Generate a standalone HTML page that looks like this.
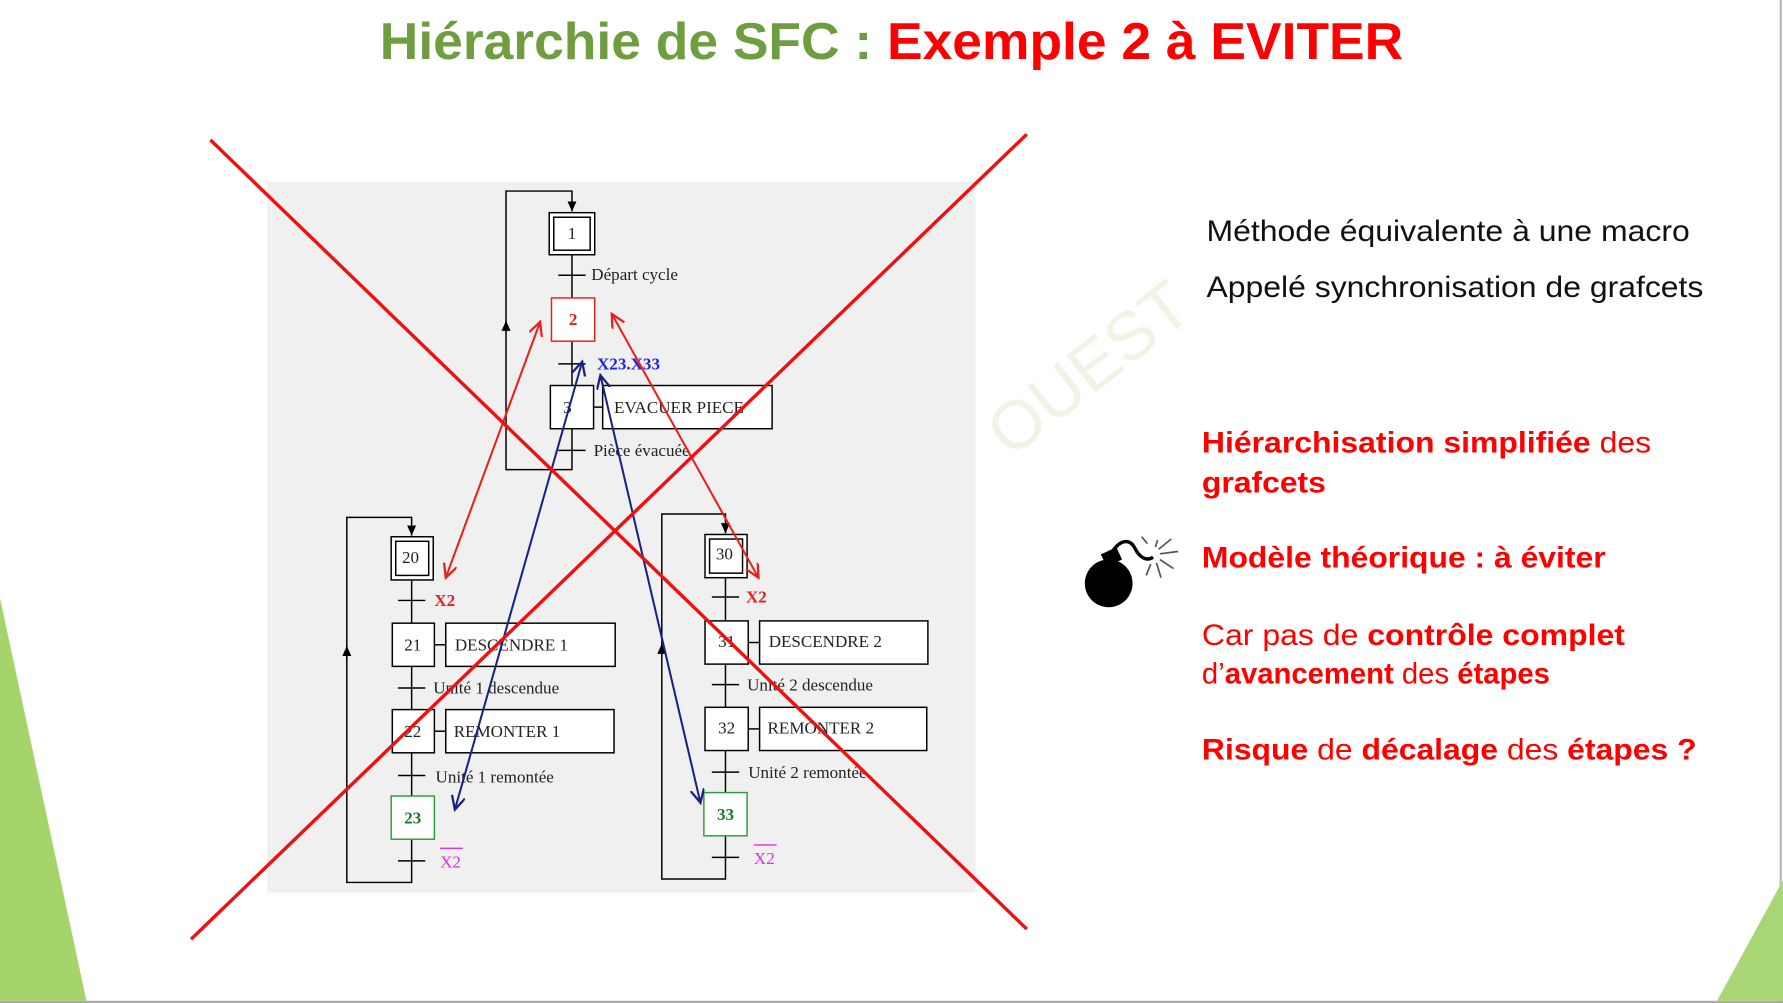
<!DOCTYPE html>
<html><head><meta charset="utf-8"><style>
html,body{margin:0;padding:0;background:#fff;}
svg{display:block;}
</style></head><body>
<svg width="1783" height="1003" viewBox="0 0 1568 882" xmlns="http://www.w3.org/2000/svg" font-family="Liberation Sans, Arial, sans-serif">
<defs>
<marker id="ab" markerWidth="10" markerHeight="10" refX="9" refY="4" orient="auto-start-reverse" markerUnits="userSpaceOnUse"><path d="M0,0 L9,4 L0,8 Z" fill="#000"/></marker>
<marker id="ar" markerWidth="14" markerHeight="14" refX="12" refY="6" orient="auto-start-reverse" markerUnits="userSpaceOnUse"><path d="M0,0 L12,6 L0,12" fill="none" stroke="#e8201c" stroke-width="2"/></marker>
<marker id="abl" markerWidth="14" markerHeight="14" refX="12" refY="6" orient="auto-start-reverse" markerUnits="userSpaceOnUse"><path d="M0,0 L12,6 L0,12" fill="none" stroke="#1a237e" stroke-width="2"/></marker>
</defs>
<rect width="1568" height="882" fill="#fff"/>
<line x1="1566" y1="0" x2="1566" y2="882" stroke="#bbb" stroke-width="2"/>
<line x1="0" y1="881" x2="1568" y2="881" stroke="#aaa" stroke-width="2"/>
<polygon points="0,526 76,880 0,880" fill="#a5d46a"/>
<polygon points="1510,880 1568,774 1568,880" fill="#a9d674"/>

<text x="784" y="52" text-anchor="middle" font-size="46" font-weight="bold" textLength="900" lengthAdjust="spacingAndGlyphs"><tspan fill="#6e9e3f">Hiérarchie de SFC : </tspan><tspan fill="#ff0000">Exemple 2 à EVITER</tspan></text>

<text x="970" y="340" font-size="60" fill="#eef5e4" transform="rotate(-38 970 340)" text-anchor="middle">OUEST</text>
<!-- diagram panel -->
<rect x="235" y="160" width="623" height="625" fill="#f0f0f0"/>

<g stroke="#000" stroke-width="1.3" fill="none">
 <polyline points="503,224 503,413 445,413 445,168 503,168 503,186" marker-end="url(#ab)"/>
 <line x1="445" y1="292" x2="445" y2="282" marker-end="url(#ab)"/>
 <line x1="491" y1="242" x2="515" y2="242"/>
 <line x1="491" y1="320" x2="515" y2="320"/>
 <line x1="491" y1="396" x2="515" y2="396"/>
 <rect x="483" y="187" width="40" height="37" fill="#fff"/>
 <rect x="487" y="191" width="32" height="29"/>
 <rect x="485" y="262" width="38" height="38" fill="#fff" stroke="#e8201c"/>
 <rect x="484" y="339" width="38" height="38" fill="#fff"/>
 <line x1="522" y1="358" x2="530" y2="358"/>
 <rect x="530" y="339" width="149" height="38" fill="#fff"/>

 <polyline points="362,738 362,776 305,776 305,455 362,455 362,471" marker-end="url(#ab)"/>
 <line x1="362" y1="510" x2="362" y2="700"/>
 <line x1="305" y1="580" x2="305" y2="568" marker-end="url(#ab)"/>
 <line x1="350" y1="528" x2="374" y2="528"/>
 <line x1="350" y1="605" x2="374" y2="605"/>
 <line x1="350" y1="682" x2="374" y2="682"/>
 <line x1="350" y1="757" x2="374" y2="757"/>
 <rect x="344" y="472" width="37" height="38" fill="#fff"/>
 <rect x="348" y="476" width="29" height="30"/>
 <rect x="345" y="548" width="37" height="38" fill="#fff"/>
 <line x1="382" y1="567" x2="392" y2="567"/>
 <rect x="392" y="548" width="149" height="38" fill="#fff"/>
 <rect x="345" y="624" width="37" height="38" fill="#fff"/>
 <line x1="382" y1="643" x2="392" y2="643"/>
 <rect x="392" y="624" width="148" height="38" fill="#fff"/>
 <rect x="344" y="700" width="38" height="38" fill="#fff" stroke="#2e9e3a"/>

 <polyline points="638,735 638,773 582,773 582,452 638,452 638,469" marker-end="url(#ab)"/>
 <line x1="638" y1="508" x2="638" y2="697"/>
 <line x1="582" y1="578" x2="582" y2="566" marker-end="url(#ab)"/>
 <line x1="626" y1="525" x2="650" y2="525"/>
 <line x1="626" y1="602" x2="650" y2="602"/>
 <line x1="626" y1="679" x2="650" y2="679"/>
 <line x1="626" y1="754" x2="650" y2="754"/>
 <rect x="620" y="470" width="37" height="38" fill="#fff"/>
 <rect x="624" y="474" width="29" height="30"/>
 <rect x="620" y="546" width="38" height="38" fill="#fff"/>
 <line x1="658" y1="565" x2="668" y2="565"/>
 <rect x="668" y="546" width="148" height="38" fill="#fff"/>
 <rect x="620" y="622" width="38" height="38" fill="#fff"/>
 <line x1="658" y1="641" x2="668" y2="641"/>
 <rect x="668" y="622" width="147" height="38" fill="#fff"/>
 <rect x="619" y="697" width="38" height="38" fill="#fff" stroke="#2e9e3a"/>
</g>

<g font-family="Liberation Serif, serif" font-size="15" fill="#222">
 <text x="503" y="210" text-anchor="middle">1</text>
 <text x="504" y="286" text-anchor="middle" fill="#e8201c" font-weight="bold">2</text>
 <text x="499" y="363" text-anchor="middle">3</text>
 <text x="540" y="363">EVACUER PIECE</text>
 <text x="520" y="246">Départ cycle</text>
 <text x="525" y="325" fill="#2222dd" font-weight="bold">X23.X33</text>
 <text x="522" y="401">Pièce évacuée</text>

 <text x="361" y="495" text-anchor="middle">20</text>
 <text x="382" y="533" fill="#e8201c" font-weight="bold">X2</text>
 <text x="363" y="572" text-anchor="middle">21</text>
 <text x="400" y="572">DESCENDRE 1</text>
 <text x="381" y="610">Unité 1 descendue</text>
 <text x="363" y="648" text-anchor="middle">22</text>
 <text x="399" y="648">REMONTER 1</text>
 <text x="383" y="688">Unité 1 remontée</text>
 <text x="363" y="724" text-anchor="middle" fill="#1a7a2a" font-weight="bold">23</text>
 <text x="387" y="763" fill="#dd33dd">X2</text>
 <line x1="387" y1="746" x2="407" y2="746" stroke="#dd33dd" stroke-width="1.2"/>

 <text x="637" y="492" text-anchor="middle">30</text>
 <text x="656" y="530" fill="#e8201c" font-weight="bold">X2</text>
 <text x="639" y="569" text-anchor="middle">31</text>
 <text x="676" y="569">DESCENDRE 2</text>
 <text x="657" y="607">Unité 2 descendue</text>
 <text x="639" y="645" text-anchor="middle">32</text>
 <text x="675" y="645">REMONTER 2</text>
 <text x="658" y="684">Unité 2 remontée</text>
 <text x="638" y="721" text-anchor="middle" fill="#1a7a2a" font-weight="bold">33</text>
 <text x="663" y="760" fill="#dd33dd">X2</text>
 <line x1="663" y1="743" x2="683" y2="743" stroke="#dd33dd" stroke-width="1.2"/>
</g>

<line x1="475" y1="283" x2="392" y2="508" stroke="#e8201c" stroke-width="1.8" marker-start="url(#ar)" marker-end="url(#ar)"/>
<line x1="538" y1="276" x2="667" y2="508" stroke="#e8201c" stroke-width="1.8" marker-start="url(#ar)" marker-end="url(#ar)"/>
<line x1="512" y1="318" x2="400" y2="712" stroke="#1a237e" stroke-width="1.8" marker-start="url(#abl)" marker-end="url(#abl)"/>
<line x1="528" y1="330" x2="616" y2="706" stroke="#1a237e" stroke-width="1.8" marker-start="url(#abl)" marker-end="url(#abl)"/>

<line x1="185" y1="123" x2="903" y2="817" stroke="#ee1111" stroke-width="3"/>
<line x1="168" y1="826" x2="903" y2="118" stroke="#ee1111" stroke-width="3"/>

<g font-size="26">
 <text x="1061" y="212" fill="#111" textLength="425" lengthAdjust="spacingAndGlyphs">Méthode équivalente à une macro</text>
 <text x="1061" y="261" fill="#111" textLength="437" lengthAdjust="spacingAndGlyphs">Appelé synchronisation de grafcets</text>
 <g fill="#ff0000">
  <text x="1057" y="398" textLength="395" lengthAdjust="spacingAndGlyphs"><tspan font-weight="bold">Hiérarchisation simplifiée</tspan> des</text>
  <text x="1057" y="433" font-weight="bold" textLength="109" lengthAdjust="spacingAndGlyphs">grafcets</text>
  <text x="1057" y="499" font-weight="bold" textLength="355" lengthAdjust="spacingAndGlyphs">Modèle théorique : à éviter</text>
  <text x="1057" y="567" textLength="372" lengthAdjust="spacingAndGlyphs">Car pas de <tspan font-weight="bold">contrôle complet</tspan></text>
  <text x="1057" y="601" textLength="306" lengthAdjust="spacingAndGlyphs">d’<tspan font-weight="bold">avancement</tspan> des <tspan font-weight="bold">étapes</tspan></text>
  <text x="1057" y="668" textLength="435" lengthAdjust="spacingAndGlyphs"><tspan font-weight="bold">Risque</tspan> de <tspan font-weight="bold">décalage</tspan> des <tspan font-weight="bold">étapes ?</tspan></text>
 </g>
</g>

<g>
 <circle cx="975" cy="513" r="21" fill="#000"/>
 <rect x="970" y="484" width="15" height="12" fill="#000" transform="rotate(-25 977 490)"/>
 <path d="M979,484 C986,474 994,474 998,482 C1002,490 1008,494 1014,490" fill="none" stroke="#000" stroke-width="3"/>
 <g stroke="#555" stroke-width="1.5">
  <line x1="1020" y1="487" x2="1036" y2="485"/>
  <line x1="1019" y1="483" x2="1030" y2="474"/>
  <line x1="1016" y1="481" x2="1018" y2="475"/>
  <line x1="1009" y1="478" x2="1004" y2="472"/>
  <line x1="1020" y1="492" x2="1032" y2="500"/>
  <line x1="1017" y1="495" x2="1021" y2="508"/>
  <line x1="1012" y1="496" x2="1008" y2="506"/>
 </g>
</g>
</svg>
</body></html>
